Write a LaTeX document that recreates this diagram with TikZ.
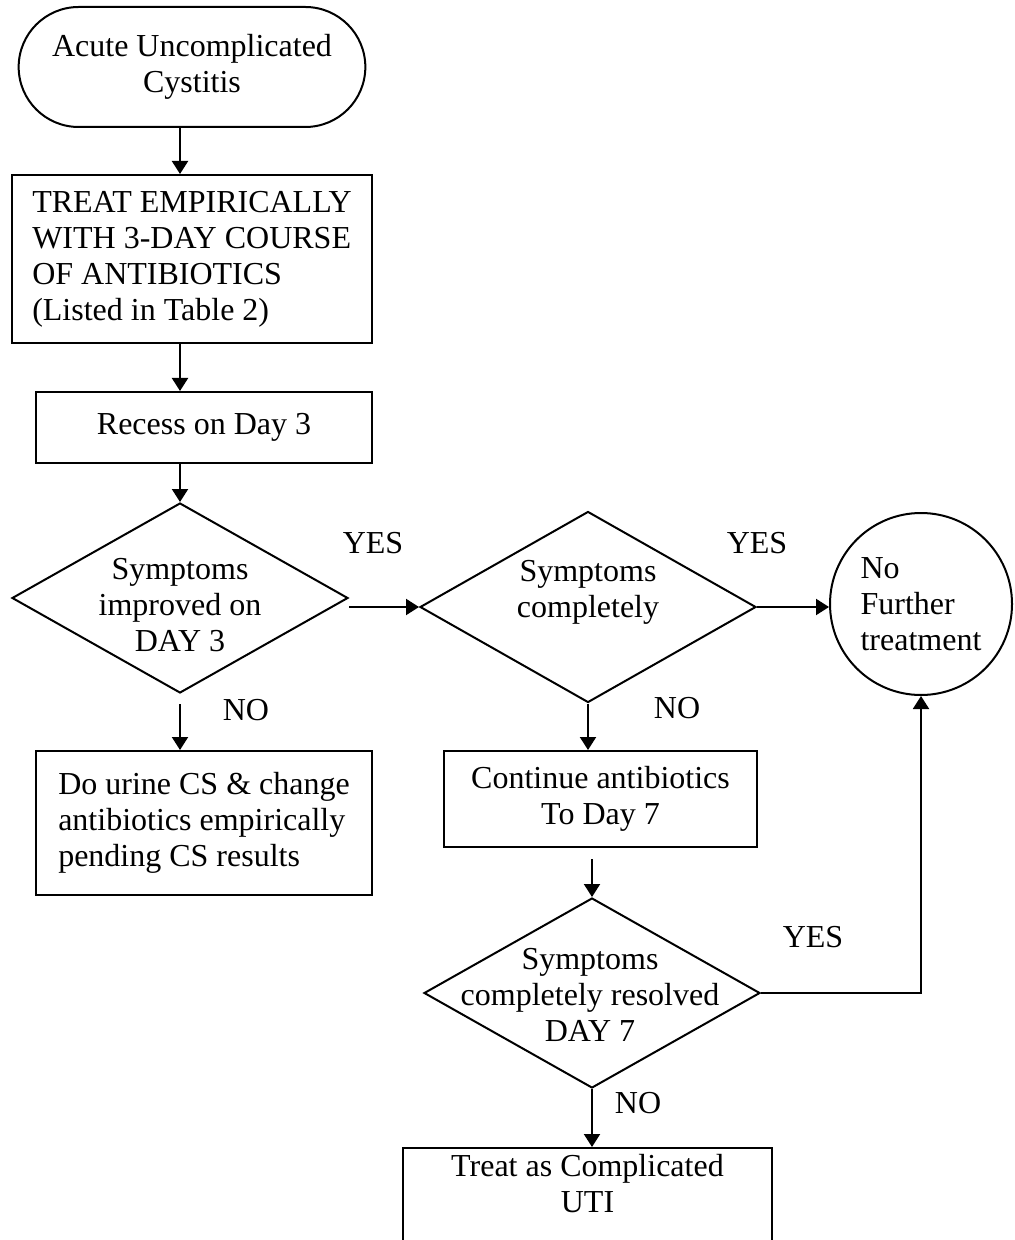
\documentclass[tikz,border=0pt]{standalone}
\usepackage{fontspec}
\setmainfont{Liberation Serif}
\usetikzlibrary{arrows.meta,shapes.geometric,shapes.misc}
\tikzset{
      boxr/.style={
          rectangle,
          draw=black,
          inner sep=0pt
      },
      termr/.style={
          rounded rectangle,
          draw=black,
          minimum width=180pt,
          minimum height=60pt,
          align=center
      },
      decr/.style={
          diamond,
          draw=black,
          minimum width=168pt,
          minimum height=95pt,
          inner sep=0pt
      },
      circr/.style={
          circle,
          draw=black,
          minimum size=91pt,
          inner sep=0pt,
          align=left
      },
      textr/.style={
          align=center,
          inner sep=0pt
      },
      arrowr/.style={
          -{Triangle[length=6.5pt,width=8pt]}
      }
  }

\begin{document}
\begin{tikzpicture}[x=0.5pt, y=-0.5pt, line width=1pt, font=\fontsize{16}{18}\selectfont]
    \useasboundingbox (0,0) rectangle (1015,1240);

    \node [termr] (start) at (192,67) {Acute Uncomplicated\\Cystitis};
    \node [boxr, minimum width=180pt, minimum height=84pt, align=left] (treat) at (192,259) {TREAT EMPIRICALLY\\WITH 3-DAY COURSE\\OF ANTIBIOTICS\\(Listed in Table 2)};
    \node [boxr, minimum width=168pt, minimum height=35.5pt] (recess) at (204,427.5) {Recess on Day 3};

    \node [decr] (d1) at (180,598) {};
    \node [textr] (d1t) at (180,605) {Symptoms\\improved on\\DAY 3};
    \node [boxr, minimum width=168pt, minimum height=72pt, align=left] (urine) at (204,823) {Do urine CS \& change\\antibiotics empirically\\pending CS results};

    \node [decr, minimum height=95.5pt] (d2) at (588,607) {};
    \node [textr] (d2t) at (588,592) {Symptoms\\completely};
    \node [circr] (circ) at (921,604) {No\\Further\\treatment};
    \node [boxr, minimum width=156.5pt, minimum height=48pt, align=center] (cont) at (600.5,799) {Continue antibiotics\\To Day 7};

    \node [decr] (d3) at (592,993) {};
    \node [textr] (d3t) at (590,995) {Symptoms\\completely resolved\\DAY 7};
    \node [boxr, minimum width=184.5pt, inner ysep=3pt, text depth=60pt, anchor=north, align=center] (final) at (587.5,1147) {Treat as Complicated\\UTI};

    %%
    \node (yes1) at (373,543) {YES};
    \node (yes2) at (757,543) {YES};
    \node (yes3) at (813,937) {YES};
    \node (no1) at (246,710) {NO};
    \node (no2) at (677,708) {NO};
    \node (no3) at (638,1103) {NO};
    %%

    \draw[arrowr] (start.south -| d1) -- (treat.north -| d1);
    \draw[arrowr] (treat.south -| d1) -- (recess.north -| d1);
    \draw[arrowr] (recess.south -| d1) -- (d1.north);
    \draw[arrowr] ([yshift=-5pt]d1.south) -- (urine.north -| d1);
    \draw[arrowr] (d1.east |- d2.west) -- (d2.west);

    \draw[arrowr] (d2.east) -- (d2.east -| circ.west);
    \draw[arrowr] (d2.south) -- (cont.north -| d2);
    \draw[arrowr] ([yshift=-5.5pt]cont.south -| d3) -- (d3.north);
    \draw[arrowr] (d3.east) -| (circ.south);
    \draw[arrowr] (d3.south) -- (final.north -| d3);

\end{tikzpicture}
\end{document}
